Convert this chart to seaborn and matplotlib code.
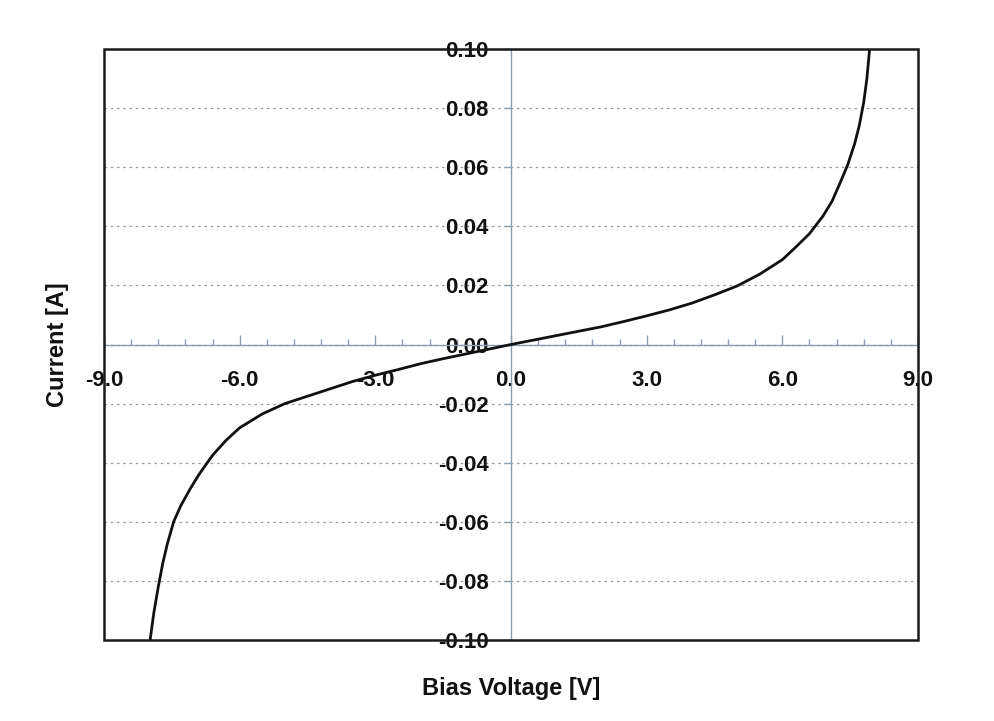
import matplotlib
matplotlib.use("Agg")
import matplotlib.pyplot as plt
from matplotlib.ticker import MultipleLocator, FormatStrFormatter
from matplotlib.patches import Rectangle
import seaborn as sns
import pandas as pd

# I-V sweep of the device (bias voltage in V, current in A)
voltage = [-7.98, -7.9, -7.8, -7.7, -7.6, -7.46, -7.3, -7.1, -6.9, -6.6, -6.3,
           -6.0, -5.5, -5.0, -4.5, -4.0, -3.5, -3.0, -2.5, -2.0, -1.5, -1.0, -0.5,
           0.0, 0.5, 1.0, 1.5, 2.0, 2.5, 3.0, 3.5, 4.0, 4.5, 5.0, 5.5, 6.0,
           6.3, 6.6, 6.9, 7.1, 7.3, 7.45, 7.6, 7.7, 7.8, 7.87, 7.93]
current = [-0.100, -0.091, -0.082, -0.074, -0.0675, -0.060, -0.0545, -0.049, -0.044,
           -0.0375, -0.0324, -0.0282, -0.0235, -0.0200, -0.0175, -0.0150, -0.0125,
           -0.0104, -0.0085, -0.0065, -0.0048, -0.0032, -0.0016,
           0.0, 0.0015, 0.003, 0.0045, 0.006, 0.0078, 0.0097, 0.0117, 0.0140,
           0.0168, 0.0198, 0.0238, 0.0287, 0.033, 0.0375, 0.0435, 0.0485, 0.0555,
           0.061, 0.068, 0.074, 0.082, 0.090, 0.100]

x_ticks = [-9.0, -6.0, -3.0, 0.0, 3.0, 6.0, 9.0]
y_ticks = [-0.10, -0.08, -0.06, -0.04, -0.02, 0.00, 0.02, 0.04, 0.06, 0.08, 0.10]

df = pd.DataFrame({"Bias Voltage [V]": voltage, "Current [A]": current})

sns.set_style("white")
plt.rcParams["font.family"] = ["Liberation Sans", "DejaVu Sans"]
plt.rcParams["font.weight"] = "bold"

fig = plt.figure(figsize=(9.95, 7.21), dpi=100)
ax = fig.add_axes([104 / 995, 1 - 640 / 721, 814 / 995, 591 / 721])

# dotted horizontal gridlines
for yv in y_ticks:
    ax.axhline(yv, color="#9a9a9a", lw=0.9, ls=(0, (2, 3)), zorder=0)

sns.lineplot(data=df, x="Bias Voltage [V]", y="Current [A]", color="#111111",
             lw=2.0, sort=False, ax=ax, zorder=3)

ax.set_xlim(-9, 9)
ax.set_ylim(-0.1, 0.1)

# axes crossing at the origin
axis_color = "#8a9cb0"
ax.spines["left"].set_position(("data", 0))
ax.spines["bottom"].set_position(("data", 0))
for s in ("left", "bottom"):
    ax.spines[s].set_color(axis_color)
    ax.spines[s].set_linewidth(1.0)
    ax.spines[s].set_zorder(2)
for s in ("top", "right"):
    ax.spines[s].set_visible(False)

# black frame around the plotting area
ax.add_patch(Rectangle((0, 0), 1, 1, transform=ax.transAxes, fill=False,
                       edgecolor="#1a1a1a", lw=1.8, zorder=4, clip_on=False))

ax.xaxis.set_major_locator(MultipleLocator(3.0))
ax.xaxis.set_minor_locator(MultipleLocator(0.6))
ax.xaxis.set_major_formatter(FormatStrFormatter("%.1f"))
ax.set_xticks(x_ticks)
ax.set_yticks(y_ticks)
ax.yaxis.set_major_formatter(FormatStrFormatter("%.2f"))

ax.tick_params(axis="x", which="major", direction="in", length=7, width=1,
               color=axis_color, pad=18, labelsize=16, labelcolor="#111111",
               bottom=True)
ax.tick_params(axis="x", which="minor", direction="in", length=4, width=1,
               color=axis_color, bottom=True)
ax.tick_params(axis="y", which="major", direction="out", length=5, width=1,
               color=axis_color, pad=11, labelsize=16, labelcolor="#111111",
               left=True)
for lab in ax.get_xticklabels() + ax.get_yticklabels():
    lab.set_fontweight("bold")
    lab.set_zorder(5)

ax.set_xlabel("Bias Voltage [V]", fontsize=17, fontweight="bold", color="#111111")
ax.set_ylabel("Current [A]", fontsize=17, fontweight="bold", color="#111111")
ax.xaxis.set_label_coords(0.5, -(677 - 640) / 591)
ax.yaxis.set_label_coords((58 - 104) / 814, 0.5)
ax.yaxis.label.set_verticalalignment("center")

fig.savefig("out.png", dpi=100, facecolor="white")
